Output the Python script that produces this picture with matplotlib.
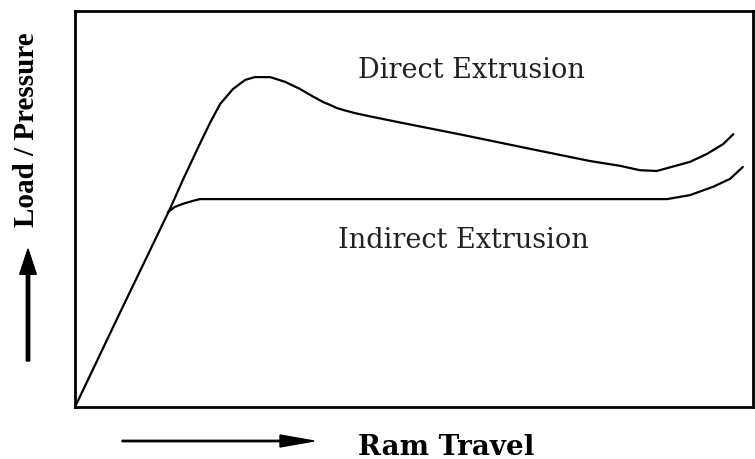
import matplotlib
matplotlib.use("Agg")
import matplotlib.pyplot as plt
from matplotlib.patches import FancyArrow

# Data (arbitrary units, 0-100 scale)
direct_x = [0, 6.6, 14.0, 15.9, 18.4, 19.9, 21.4, 23.3, 25.1, 26.5, 28.8, 31.0, 33.2, 35.0, 36.6,
            37.6, 38.6, 39.8, 41.3, 43.5, 47.5, 57.2, 67.1, 76.0, 80.4, 83.3, 85.8, 90.7, 93.2, 95.6, 97.1]
direct_y = [0, 23.7, 50.0, 57.3, 66.4, 71.7, 76.5, 80.3, 82.6, 83.3, 83.3, 82.1, 80.3, 78.5, 77.0,
            76.3, 75.5, 74.9, 74.2, 73.4, 72.0, 68.7, 65.2, 62.1, 60.9, 59.8, 59.6, 61.9, 63.9, 66.4, 68.9]
indirect_x = [13.7, 14.7, 15.9, 17.3, 18.4, 87.3, 90.7, 94.1, 96.6, 98.5]
indirect_y = [49.2, 50.5, 51.3, 52.0, 52.5, 52.5, 53.5, 55.6, 57.6, 60.6]

labels = {"direct": "Direct Extrusion", "indirect": "Indirect Extrusion",
          "x": "Ram Travel", "y": "Load / Pressure"}

W, H = 755, 460
fig = plt.figure(figsize=(W / 100, H / 100), dpi=100)
ax = fig.add_axes([75 / W, 1 - 408 / H, (753 - 75) / W, (408 - 12) / H])
ax.plot(direct_x, direct_y, color="black", lw=1.6, solid_joinstyle="round", solid_capstyle="round")
ax.plot(indirect_x, indirect_y, color="black", lw=1.6, solid_joinstyle="round", solid_capstyle="round")
ax.set_xlim(0, 100)
ax.set_ylim(0, 100)
ax.set_xticks([])
ax.set_yticks([])
for s in ax.spines.values():
    s.set_linewidth(2)
    s.set_color("black")

hser = "DejaVu Serif"
ax.text(58.5, 83.3, labels["direct"], family=hser, fontsize=19.5, ha="center", va="baseline", color="#222")
ax.text(57.3, 40.4, labels["indirect"], family=hser, fontsize=19.5, ha="center", va="baseline", color="#222")

fig.text(446 / W, 1 - 455 / H, labels["x"], family=hser, fontsize=20, fontweight="bold",
         ha="center", va="baseline")
fig.text(27 / W, 1 - 130 / H, labels["y"], family="Liberation Serif", fontsize=21, fontweight="bold",
         ha="center", va="center", rotation=90)

# arrows
fig.patches.append(FancyArrow(
    122 / W, 1 - 442 / H, (314 - 122) / W, 0, width=0.003, head_width=0.026, head_length=0.045,
    length_includes_head=True, color="black", transform=fig.transFigure))
fig.patches.append(FancyArrow(
    28 / W, 1 - 362 / H, 0, (362 - 250) / H, width=0.0045, head_width=0.022, head_length=0.055,
    length_includes_head=True, color="black", transform=fig.transFigure))

fig.savefig("out.png", dpi=100)
